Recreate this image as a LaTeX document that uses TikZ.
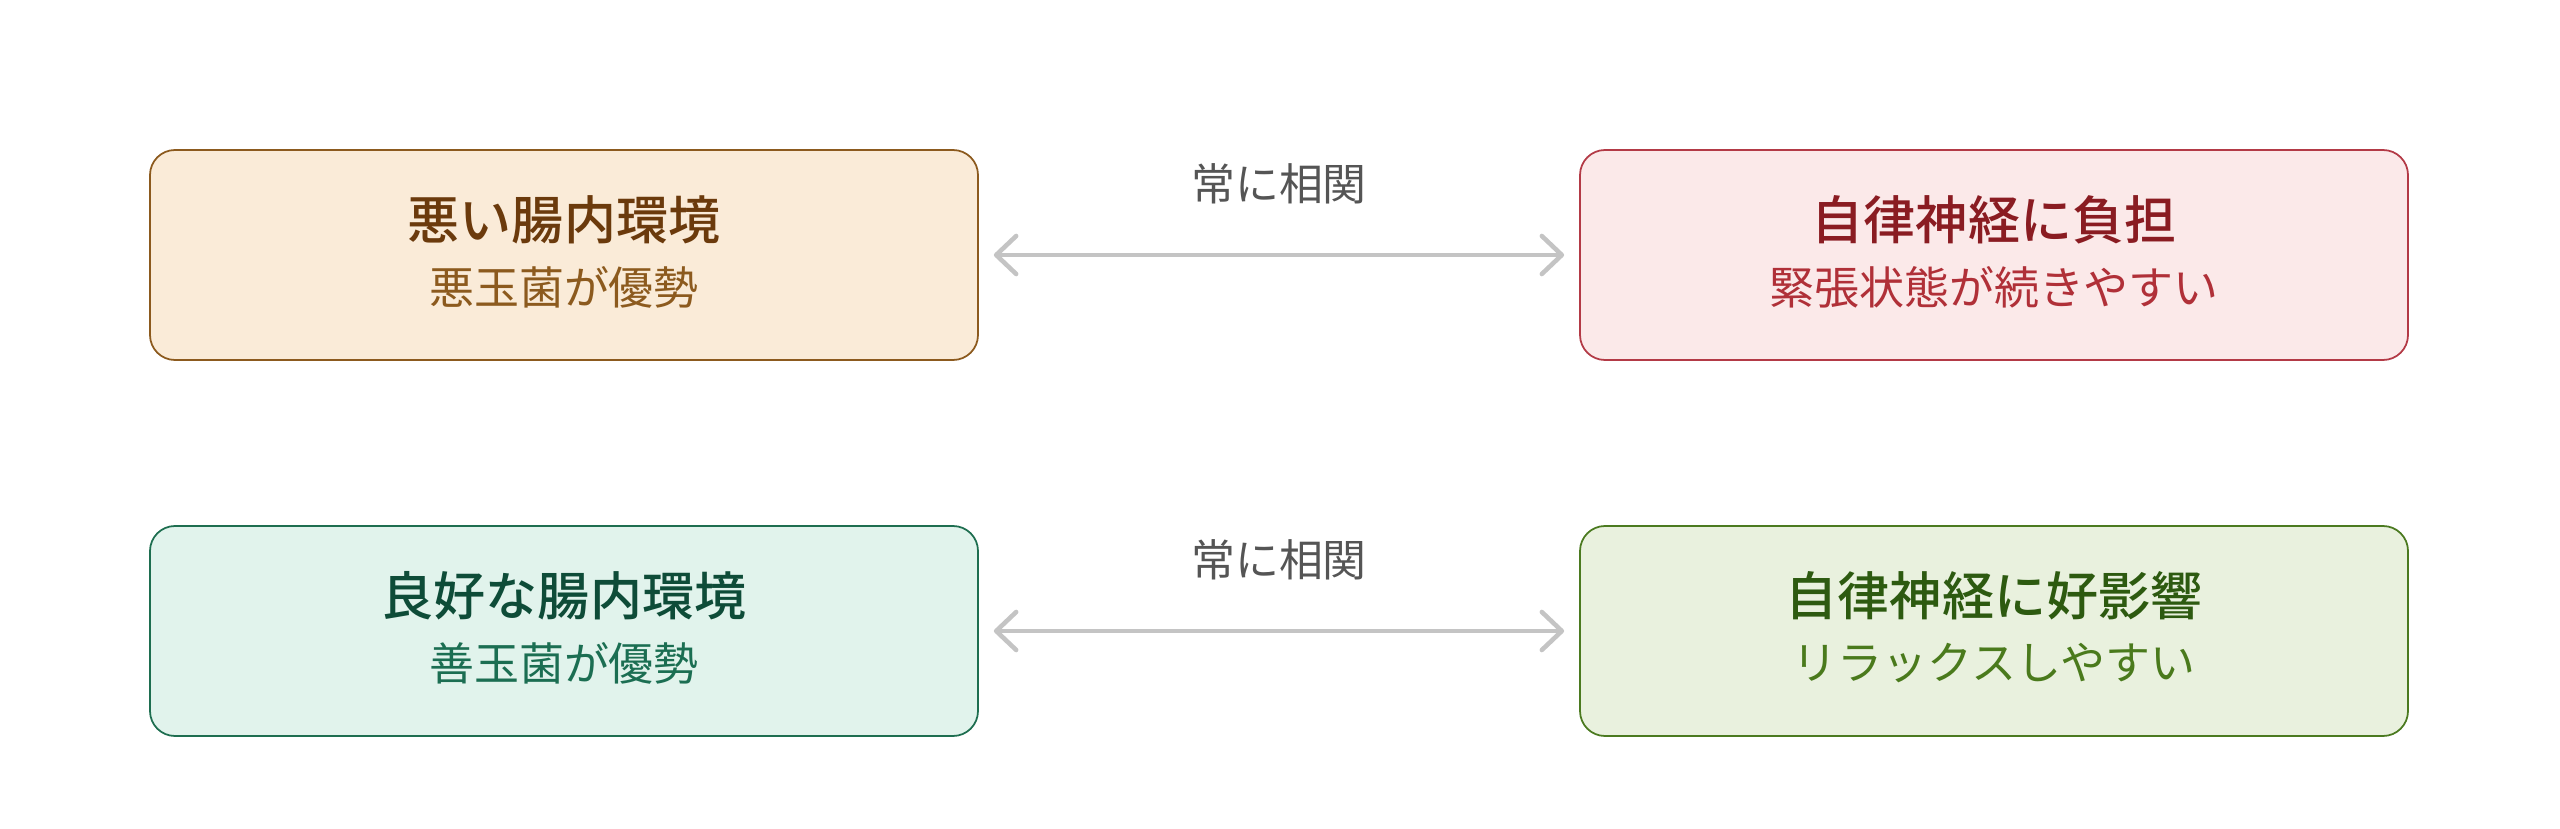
\documentclass[tikz,border=0pt]{standalone}
\usepackage{fontspec}
\setmainfont{Noto Sans CJK JP}[BoldFont={Noto Sans CJK JP Medium}]
\usepackage{tikz}
\usetikzlibrary{arrows.meta, positioning}

\definecolor{badfill}{HTML}{FAEBD8}
\definecolor{baddraw}{HTML}{8C5A1E}
\definecolor{badtitle}{HTML}{6B3A0C}
\definecolor{badsub}{HTML}{8C5A1E}
\definecolor{tensefill}{HTML}{FBE9E9}
\definecolor{tensedraw}{HTML}{B33A46}
\definecolor{tensetitle}{HTML}{8A1C22}
\definecolor{tensesub}{HTML}{B03038}
\definecolor{goodfill}{HTML}{E1F3EC}
\definecolor{gooddraw}{HTML}{1E6E50}
\definecolor{goodtitle}{HTML}{0E4C38}
\definecolor{goodsub}{HTML}{1B6E52}
\definecolor{calmfill}{HTML}{E9F1DE}
\definecolor{calmdraw}{HTML}{4B7A20}
\definecolor{calmtitle}{HTML}{2D5A10}
\definecolor{calmsub}{HTML}{4A7A1C}
\definecolor{linkgray}{HTML}{C4C4C4}
\definecolor{labelgray}{HTML}{555555}

\tikzset{
  statebox/.style={draw, line width=0.5pt, rounded corners=0.25cm,
    minimum width=8.28cm, minimum height=2.1cm, inner sep=0pt},
  titletext/.style={font=\fontsize{14.8pt}{17pt}\selectfont\bfseries, inner sep=0pt},
  subtext/.style={font=\fontsize{12.8pt}{15pt}\selectfont, inner sep=0pt},
  linklabel/.style={font=\fontsize{12.5pt}{15pt}\selectfont, text=labelgray, inner sep=0pt},
  linkarrow/.style={draw=linkgray, line width=1.3pt, line cap=round,
    {Straight Barb[length=0.2cm, width=0.38cm, line width=1.3pt, round]}-{Straight Barb[length=0.2cm, width=0.38cm, line width=1.3pt, round]}}
}

\begin{document}
\begin{tikzpicture}
  \useasboundingbox (0,0) rectangle (25.6,8.28);

  % top row
  \node[statebox, fill=badfill, draw=baddraw] (badgut) at (5.64,5.73) {};
  \node[statebox, fill=tensefill, draw=tensedraw] (tensenerve) at (19.94,5.73) {};
  \node[titletext, text=badtitle] (badgutT) at ([yshift=0.35cm]badgut.center) {悪い腸内環境};
  \node[subtext, text=badsub] (badgutS) at ([yshift=-0.32cm]badgut.center) {悪玉菌が優勢};
  \node[titletext, text=tensetitle] (tensenerveT) at ([yshift=0.35cm]tensenerve.center) {自律神経に負担};
  \node[subtext, text=tensesub] (tensenerveS) at ([yshift=-0.32cm]tensenerve.center) {緊張状態が続きやすい};

  % bottom row
  \node[statebox, fill=goodfill, draw=gooddraw] (goodgut) at (5.64,1.97) {};
  \node[statebox, fill=calmfill, draw=calmdraw] (calmnerve) at (19.94,1.97) {};
  \node[titletext, text=goodtitle] (goodgutT) at ([yshift=0.35cm]goodgut.center) {良好な腸内環境};
  \node[subtext, text=goodsub] (goodgutS) at ([yshift=-0.32cm]goodgut.center) {善玉菌が優勢};
  \node[titletext, text=calmtitle] (calmnerveT) at ([yshift=0.35cm]calmnerve.center) {自律神経に好影響};
  \node[subtext, text=calmsub] (calmnerveS) at ([yshift=-0.32cm]calmnerve.center) {リラックスしやすい};

  % links
  \draw[linkarrow] ([xshift=0.15cm]badgut.east) -- ([xshift=-0.15cm]tensenerve.west)
    coordinate[midway] (toplink);
  \node[linklabel] (toplabel) at ([yshift=0.71cm]toplink) {常に相関};
  \draw[linkarrow] ([xshift=0.15cm]goodgut.east) -- ([xshift=-0.15cm]calmnerve.west)
    coordinate[midway] (bottomlink);
  \node[linklabel] (bottomlabel) at ([yshift=0.71cm]bottomlink) {常に相関};
\end{tikzpicture}
\end{document}
